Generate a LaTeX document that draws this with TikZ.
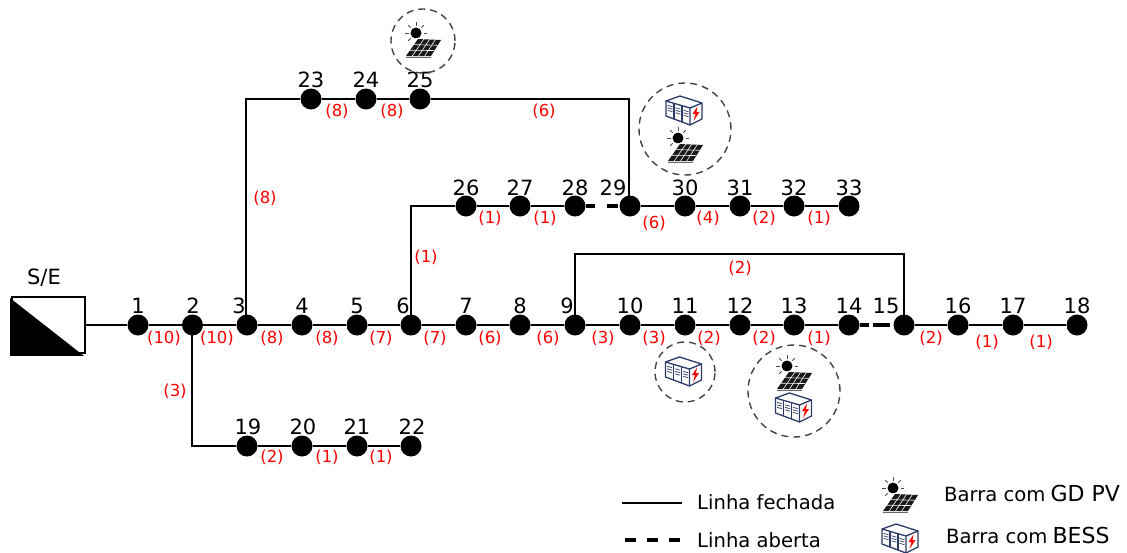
\documentclass[tikz,border=0pt]{standalone}
\usepackage{fontspec}
\setmainfont{DejaVu Sans}
\usetikzlibrary{calc}

\definecolor{bessblue}{HTML}{2B3A67}
\definecolor{ringgray}{HTML}{444444}

\tikzset{
  bus/.style={circle,fill=black,inner sep=0pt,minimum size=21pt},
  busnum/.style={inner sep=0pt,font=\fontsize{21}{21}\selectfont},
  load/.style={inner sep=0pt,text=red,font=\fontsize{16.5}{17}\selectfont},
  legendtext/.style={inner sep=0pt,anchor=west,font=\fontsize{19.6}{20}\selectfont},
  closedline/.style={line width=1.7pt},
  openline/.style={line width=3.2pt},
  ring/.style={circle,draw=ringgray,line width=1.4pt,dash pattern=on 7pt off 5pt,inner sep=0pt},
  pvicon/.pic={
    \fill[black] (-8,-14) circle (5.5);
    \foreach \a in {0,45,...,315}
      \draw[line width=.9pt,black!70] ($(-8,-14)+(\a:7.5)$) -- ($(-8,-14)+(\a:11)$);
    \fill[white] (-8,-9) -- (19,-8) -- (8,10) -- (-20,10) -- cycle;
    \fill[black!90] (-6,-8) -- (17,-7) -- (7,9) -- (-18,9) -- cycle;
    \foreach \t in {.25,.5,.75}
      \draw[white,line width=.6pt] ($(-6,-8)!\t!(17,-7)$) -- ($(-18,9)!\t!(7,9)$);
    \foreach \t in {.33,.66}
      \draw[white,line width=.6pt] ($(-6,-8)!\t!(-18,9)$) -- ($(17,-7)!\t!(7,9)$);
    \draw[black!60,line width=.9pt] (-18,10) -- (7,10);
  },
  bessicon/.pic={
    \begin{scope}[draw=bessblue,line width=1.3pt,line join=round]
      \draw (-18,-9) -- (-4,-14) -- (18,-7) -- (18,9) -- (6,15) -- (-18,6) -- cycle;
      \draw (-18,-9) -- (6,-2) -- (18,-7) (6,-2) -- (6,15);
      \draw (-10,-7) -- (-10,9) (-2,-4.5) -- (-2,12);
      \foreach \x/\y in {-14/-4,-6/-1.5,2/1}
        \foreach \d in {0,2.5,5}
          \draw[line width=.7pt] (\x-2.5,\y+\d-.7) -- (\x+2.5,\y+\d+.7);
    \end{scope}
    \fill[red] (13.5,-3.5) -- (8.5,4) -- (11.5,4) -- (9.5,11) -- (15.5,2) -- (12.5,2) -- cycle;
  },
}

\begin{document}
\begin{tikzpicture}[x=1pt,y=-1pt]
\useasboundingbox (0,0) rectangle (1127,552);

% subestacao
\node[draw,line width=1.6pt,inner sep=0pt,minimum width=73pt,minimum height=56pt] (se) at (48.5,325) {};
\fill[black] ($(se.north west)+(-1,2)$) -- ($(se.south east)+(-2,2)$) -- ($(se.south west)+(-1,2)$) -- cycle;
\node[busnum] (selabel) at (44,278) {S/E};

% barras
\foreach \n/\x/\y in {1/138/325,2/192.5/325,3/247/325,4/302/325,5/357/325,6/411/325,7/466/325,8/520/325,
  9/575/325,10/630/325,11/685/325,12/740/325,13/794/325,14/849/325,15/904/325,16/958/325,17/1013/325,18/1077/325,
  19/247/446,20/302/446,21/357/446,22/411/446,23/311/99,24/366/99,25/420/99,
  26/466/206,27/520/206,28/575/206,29/630/206,30/685/206,31/740/206,32/794/206,33/849/206}
  \node[bus] (b\n) at (\x,\y) {};

% numeros
\foreach \n/\x/\y in {1/138/306,2/193/306,3/239/306,4/302/306,5/357/306,6/403/306,7/466/306,8/520/306,
  9/567/306,10/630/306,11/685/306,12/740/306,13/794/306,14/849/306,15/886/306,16/958/306,17/1013/306,18/1077/306,
  19/248/427,20/303/427,21/357/427,22/412/427,23/311/80,24/366/80,25/420/80,
  26/466/188,27/520/188,28/575/188,29/613/188,30/685/188,31/740/188,32/794/188,33/849/188}
  \node[busnum] (n\n) at (\x,\y) {\n};

% linhas
\draw[closedline] (se) -- (b1);
\foreach \a/\b in {1/2,2/3,3/4,4/5,5/6,6/7,7/8,8/9,9/10,10/11,11/12,12/13,13/14,15/16,16/17,17/18,
  19/20,20/21,21/22,23/24,24/25,26/27,27/28,29/30,30/31,31/32,32/33}
  \draw[closedline] (b\a) -- (b\b);
\draw[closedline] ([xshift=-.8pt]b2.center) |- (b19);
\draw[closedline] ([xshift=-.8pt]b3.center) |- (b23);
\draw[closedline] (b6.center) |- (b26);
\draw[closedline] (b25) -| ([xshift=-.8pt]b29.center);
\coordinate (c9) at (575,254);
\coordinate (c15) at (904,254);
\draw[closedline] (b9.center) -- (c9) -- (c15) -- (b15.center);
\draw[openline,dash pattern=on 9pt off 12pt on 11pt off 99pt] (b28) -- (b29);
\draw[openline,dash pattern=on 9pt off 4pt on 17pt off 99pt] (b14) -- (b15);
\coordinate (c17) at (1030,325);
\coordinate (c18) at (1058,325);
\draw[line width=2.6pt] (c17) -- (c18);

% cargas
\foreach \t/\x/\y in {(10)/164/338,(10)/217/338,(8)/272/338,(8)/327/338,(7)/381/338,(7)/435/338,(6)/490/338,
  (6)/548/338,(3)/603/338,(3)/654/338,(2)/709/338,(2)/764/338,(1)/819/338,(2)/931/338,(1)/987/342,(1)/1041/342,
  (3)/175/391,(2)/272/457,(1)/327/457,(1)/381/457,(8)/265/198,(1)/426/257,(1)/490/218,(1)/545/218,
  (6)/654/223,(4)/708/218,(2)/764/218,(1)/819/218,(8)/337/111,(8)/392/111,(6)/544/111,(2)/740/268}
  \node[load] at (\x,\y) {\t};

% GD e BESS
\node[ring,minimum size=64pt] (r25) at (423,41) {};
\pic at (424,47) {pvicon};
\node[ring,minimum size=92pt] (r30) at (685,129) {};
\pic at (684,110) {bessicon};
\pic at (686,152) {pvicon};
\node[ring,minimum size=60pt] (r11) at (685,372) {};
\pic at (683.5,371) {bessicon};
\node[ring,minimum size=92pt] (r13) at (794,391) {};
\pic at (795,380) {pvicon};
\pic at (793.5,407) {bessicon};

% legenda
\coordinate (l1a) at (622,503);
\coordinate (l1b) at (682,503);
\coordinate (l2a) at (625,540);
\coordinate (l2b) at (680,540);
\draw[closedline] (l1a) -- (l1b);
\draw[openline,dash pattern=on 11pt off 11pt] (l2a) -- (l2b);
\node[legendtext] (t1) at (697,502) {Linha fechada};
\node[legendtext] (t2) at (697,540) {Linha aberta};
\pic at (901,502) {pvicon};
\pic at (900,538) {bessicon};
\node[legendtext] (t3) at (944,493) {Barra com\hspace{5pt}{\fontsize{22}{20}\selectfont GD PV}};
\node[legendtext] (t4) at (946,535) {Barra com\hspace{5pt}{\fontsize{22}{20}\selectfont BESS}};

\end{tikzpicture}
\end{document}
